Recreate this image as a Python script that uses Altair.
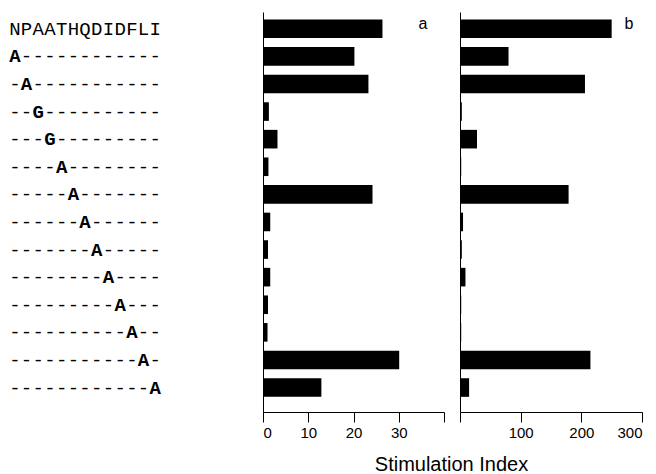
import altair as alt
import pandas as pd

# ---- data ----
labels = [
    "NPAATHQDIDFLI",
    "A------------",
    "-A-----------",
    "--G----------",
    "---G---------",
    "----A--------",
    "-----A-------",
    "------A------",
    "-------A-----",
    "--------A----",
    "---------A---",
    "----------A--",
    "-----------A-",
    "------------A",
]
si_a = [26.4, 20.2, 23.3, 1.3, 3.2, 1.2, 24.2, 1.6, 1.1, 1.6, 1.1, 1.0, 30.1, 12.9]
si_b = [250, 80, 206, 3, 28, 2, 179, 5, 3, 9, 2, 2, 215, 15]
panel_tags = ["a", "b"]
axis_title = "Stimulation Index"
a_ticks = [0, 10, 20, 30, 40]
b_ticks = [0, 100, 200, 300]

# ---- tables ----
bars = pd.DataFrame({"label": labels, "a": si_a, "b": si_b})
rows = []
for r, lab in enumerate(labels):
    for i, ch in enumerate(lab):
        rows.append({"label": lab, "pos": i, "ch": ch,
                     "bold": int(r > 0 and ch != "-")})
chars = pd.DataFrame(rows)

SANS = "Liberation Sans"
MONO = "Liberation Mono"
H = 400


def yscale():
    return alt.Scale(type="band", domain=labels, paddingInner=0.326, paddingOuter=0.41, align=0.33)


yaxis = alt.Axis(labels=False, ticks=False, title=None, grid=False,
                 domainColor="black", domainWidth=1)

# ---- sequence labels panel ----
seq_base = alt.Chart(chars).encode(
    x=alt.X("pos:Q", scale=alt.Scale(domain=[-1.27, 19.84], nice=False, zero=False), axis=None),
    y=alt.Y("label:N", scale=yscale(), axis=None, bandPosition=0.5),
    text="ch:N",
)
seq_norm = seq_base.mark_text(font=MONO, fontSize=19, color="black",
                              align="center", baseline="middle").transform_filter("datum.bold == 0")
seq_bold = seq_base.mark_text(font=MONO, fontSize=19, color="black", fontWeight="bold",
                              align="center", baseline="middle").transform_filter("datum.bold == 1")
seq_panel = alt.layer(seq_norm, seq_bold).properties(width=247, height=H)


def xaxis(vals, hide, **kw):
    return alt.Axis(values=vals, labelExpr=f"datum.value == {hide} ? '' : datum.label",
                    tickSize=10, tickColor="black", domainColor="black", labelColor="black",
                    labelFont=SANS, labelFontSize=15, labelPadding=3, grid=False, **kw)


# ---- panel a ----
bars_a = alt.Chart(bars).mark_bar(color="black").encode(
    x=alt.X("a:Q", scale=alt.Scale(domain=[0, 40], nice=False),
            axis=xaxis(a_ticks, 40, title=axis_title, titleX=188, titleY=58,
                       titleBaseline="alphabetic", titleFont=SANS, titleFontSize=20,
                       titleFontWeight="normal", titleColor="black")),
    y=alt.Y("label:N", scale=yscale(), axis=yaxis),
)
tag_a = alt.Chart(pd.DataFrame({"tag": [panel_tags[0]]})).mark_text(
    font=SANS, fontSize=16, color="black", align="center", baseline="alphabetic"
).encode(x=alt.value(160), y=alt.value(17), text="tag:N")
panel_a = alt.layer(bars_a, tag_a).properties(width=181, height=H)

# ---- panel b ----
bars_b = alt.Chart(bars).mark_bar(color="black").encode(
    x=alt.X("b:Q", scale=alt.Scale(domain=[0, 300], nice=False),
            axis=xaxis(b_ticks, 0, title=None)),
    y=alt.Y("label:N", scale=yscale(), axis=yaxis),
)
tag_b = alt.Chart(pd.DataFrame({"tag": [panel_tags[1]]})).mark_text(
    font=SANS, fontSize=16, color="black", align="center", baseline="alphabetic"
).encode(x=alt.value(169), y=alt.value(17), text="tag:N")
panel_b = alt.layer(bars_b, tag_b).properties(width=182, height=H)

chart = alt.hconcat(seq_panel, panel_a, panel_b, spacing=16, bounds="flush").properties(
    padding={"left": 0, "top": 12, "right": 2, "bottom": 0},
    background="white",
).configure_view(stroke=None)

chart.save("out.html", embed_options={"renderer": "svg", "actions": False})
